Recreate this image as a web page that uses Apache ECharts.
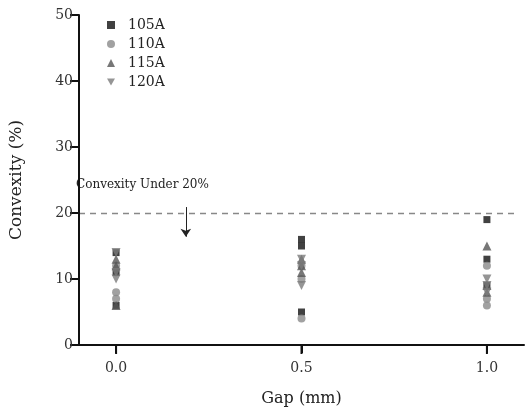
<!DOCTYPE html>
<html>
<head>
<meta charset="utf-8">
<script src="https://cdn.jsdelivr.net/npm/echarts@6/dist/echarts.min.js"></script>
<style>
  html, body { margin: 0; padding: 0; background: #fff; }
  #chart { width: 525px; height: 414px; }
</style>
</head>
<body>
<div id="chart"></div>
<script>
const gaps = [0, 0.5, 1.0]
const xTicks = [0, 0.5, 1.0]
const seriesNames = ['105A', '110A', '115A', '120A']
// convexity (%) per gap, three measurements each
const s105 = [[14, 6, 11], [16, 15, 5], [19, 13, 9]]
const s110 = [[8, 7, 12], [4, 12, 10], [12, 6, 7]]
const s115 = [[13, 6, 12], [13, 11, 12], [15, 8, 9]]
const s120 = [[10, 11, 14], [9, 12, 13], [10, 9, 8]]
const limit = 20
const xMin = -0.1
const xMax = 1.1
const yMax = 50

const font = '"DejaVu Serif", "Liberation Serif", serif'

function toPoints(rows) {
  const pts = []
  rows.forEach((vals, i) => {
    vals.forEach((v) => pts.push([gaps[i], v]))
  })
  return pts
}

const styles = [
  { symbol: 'rect', size: 7, color: '#111' },
  { symbol: 'circle', size: 8, color: '#8a8a8a' },
  { symbol: 'triangle', size: 9, color: '#555' },
  { symbol: 'path://M0,0 L10,0 L5,9 Z', size: 9, color: '#7a7a7a' },
]

const allData = [s105, s110, s115, s120]

const series = allData.map((rows, k) => ({
  name: seriesNames[k],
  type: 'scatter',
  data: toPoints(rows),
  symbol: styles[k].symbol,
  symbolSize: styles[k].size,
  itemStyle: { color: styles[k].color },
  z: 3 + k,
}))

// 20% limit line
series.push({
  name: 'limit',
  type: 'scatter',
  data: [],
  markLine: {
    silent: true,
    symbol: ['none', 'none'],
    label: { show: false },
    lineStyle: { color: '#888', type: [6, 5], width: 1.3 },
    data: [[{ coord: [xMin, limit] }, { coord: [1.075, limit] }]],
  },
})
// annotation arrow
series.push({
  name: 'arrow',
  type: 'scatter',
  data: [],
  markLine: {
    silent: true,
    symbol: ['none', 'arrow'],
    symbolSize: 8,
    label: { show: false },
    lineStyle: { color: '#222', type: 'solid', width: 1 },
    data: [[{ coord: [0.188, 20.9] }, { coord: [0.188, 16.4] }]],
  },
})

const noteText = {
  type: 'text',
  left: 76,
  top: 179,
  style: { text: 'Convexity Under 20%', font: '12px ' + font, fill: '#222' },
}

const option = {
  animation: false,
  backgroundColor: '#fff',
  grid: { left: 78, top: 15, right: 1, bottom: 69 },
  legend: {
    data: seriesNames.map((n, k) => ({ name: n, icon: styles[k].symbol })),
    orient: 'vertical',
    left: 102,
    top: 13,
    itemWidth: 8,
    itemHeight: 8,
    itemGap: 5,
    textStyle: { fontFamily: font, fontSize: 14, color: '#222', padding: [0, 0, 0, 8] },
  },
  xAxis: {
    type: 'value',
    min: xMin,
    max: xMax,
    position: 'bottom',
    z: 20,
    name: 'Gap (mm)',
    nameLocation: 'middle',
    nameGap: 46,
    nameTextStyle: { fontFamily: font, fontSize: 16, color: '#222' },
    splitLine: { show: false },
    axisLine: { show: true, onZero: false, lineStyle: { color: '#111', width: 2 } },
    axisTick: { show: true, customValues: xTicks, length: 8, lineStyle: { color: '#111', width: 2 } },
    axisLabel: {
      customValues: xTicks,
      fontFamily: font,
      fontSize: 14,
      color: '#333',
      margin: 16,
      formatter: (v) => v.toFixed(1),
    },
  },
  yAxis: {
    type: 'value',
    min: 0,
    max: yMax,
    interval: 10,
    position: 'left',
    z: 20,
    name: 'Convexity (%)',
    nameLocation: 'middle',
    nameGap: 54,
    nameTextStyle: { fontFamily: font, fontSize: 17, color: '#222' },
    splitLine: { show: false },
    axisLine: { show: true, onZero: false, lineStyle: { color: '#111', width: 2 } },
    axisTick: { show: true, length: 9, lineStyle: { color: '#111', width: 2 } },
    axisLabel: { fontFamily: font, fontSize: 14, color: '#333', margin: 6 },
  },
  graphic: [noteText],
  series,
}

const chart = echarts.init(document.getElementById('chart'))
chart.setOption(option)

// left axis line and x ticks, placed through the chart's own scales
const bottomLeft = chart.convertToPixel({ gridIndex: 0 }, [xMin, 0])
const topLeft = chart.convertToPixel({ gridIndex: 0 }, [xMin, yMax])
const frame = [noteText, {
  type: 'line',
  z: 100,
  shape: { x1: bottomLeft[0], y1: bottomLeft[1] + 1, x2: topLeft[0], y2: topLeft[1] },
  style: { stroke: '#111', lineWidth: 2 },
}]
xTicks.forEach((v) => {
  const p = chart.convertToPixel({ gridIndex: 0 }, [v, 0])
  frame.push({
    type: 'line',
    z: 100,
    shape: { x1: p[0], y1: p[1] + 1, x2: p[0], y2: p[1] + 9 },
    style: { stroke: '#111', lineWidth: 2 },
  })
})
chart.setOption({ graphic: frame })
</script>
</body>
</html>
